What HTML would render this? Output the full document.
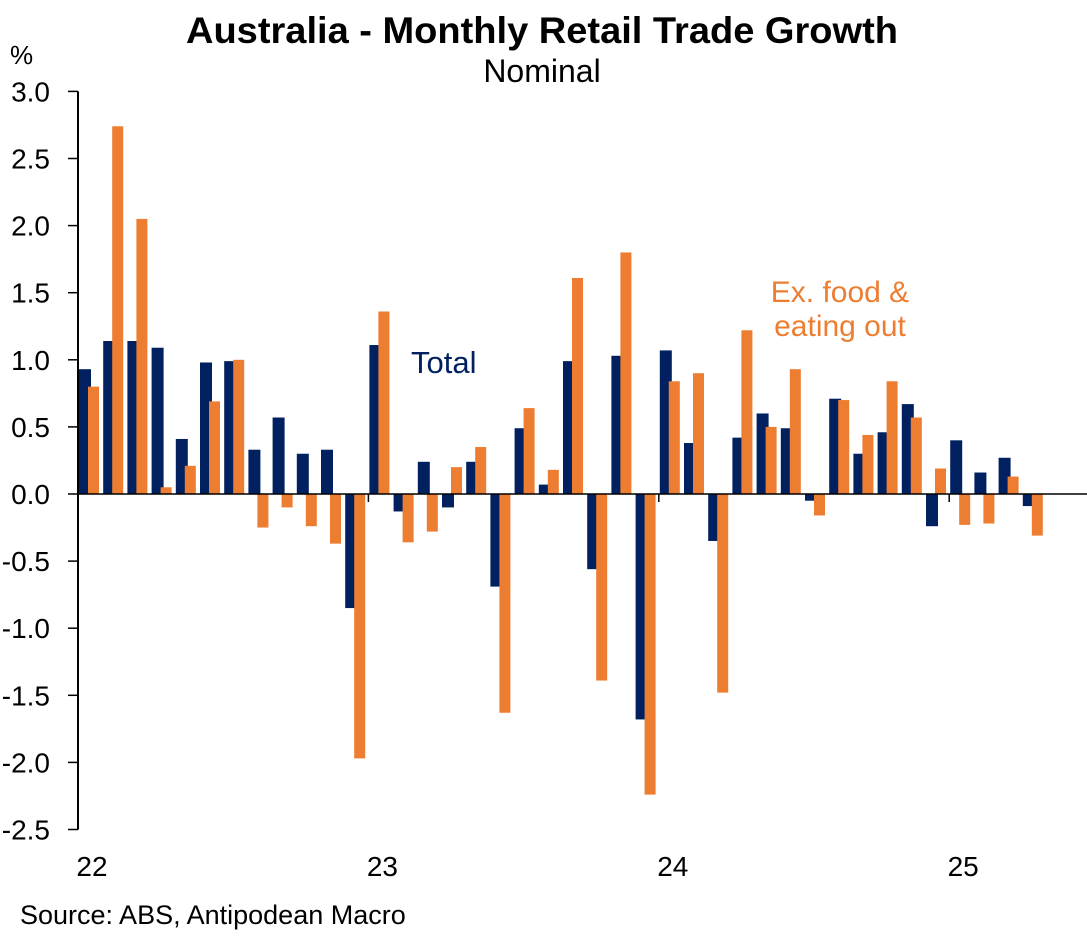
<!DOCTYPE html>
<html><head><meta charset="utf-8"><style>
body{margin:0;background:#fff;font-family:"Liberation Sans",Arial,sans-serif}
</style></head><body>
<svg width="1087" height="932" xmlns="http://www.w3.org/2000/svg" font-family="Liberation Sans, Arial, sans-serif">
<text x="542" y="43" text-anchor="middle" font-size="37" font-weight="bold" textLength="712" lengthAdjust="spacingAndGlyphs">Australia - Monthly Retail Trade Growth</text>
<text x="542" y="82" text-anchor="middle" font-size="32">Nominal</text>
<text x="10" y="64" font-size="26">%</text>
<g id="bars"></g>
<g id="axes"></g>
<text x="411" y="373" font-size="31" fill="#002060">Total</text>
<text x="840" y="302" text-anchor="middle" font-size="30" fill="#ED7D31">Ex. food &amp;</text>
<text x="840" y="336" text-anchor="middle" font-size="30" fill="#ED7D31">eating out</text>
<text x="20" y="924" font-size="27">Source: ABS, Antipodean Macro</text>
</svg>
<script>
const total=[0.93,1.14,1.14,1.09,0.41,0.98,0.99,0.33,0.57,0.30,0.33,-0.85,1.11,-0.13,0.24,-0.10,0.24,-0.69,0.49,0.07,0.99,-0.56,1.03,-1.68,1.07,0.38,-0.35,0.42,0.60,0.49,-0.05,0.71,0.30,0.46,0.67,-0.24,0.40,0.16,0.27,-0.09];
const exFood=[0.80,2.74,2.05,0.05,0.21,0.69,1.00,-0.25,-0.10,-0.24,-0.37,-1.97,1.36,-0.36,-0.28,0.20,0.35,-1.63,0.64,0.18,1.61,-1.39,1.80,-2.24,0.84,0.90,-1.48,1.22,0.50,0.93,-0.16,0.70,0.44,0.84,0.57,0.19,-0.23,-0.22,0.13,-0.31];
const yTicks=[3.0,2.5,2.0,1.5,1.0,0.5,0.0,-0.5,-1.0,-1.5,-2.0,-2.5];
const yearLabels=["22","23","24","25"];
const NS="http://www.w3.org/2000/svg";
const y=v=>494-v*134.2;
const x0=78,slot=24.2;
const bars=document.getElementById('bars'),axes=document.getElementById('axes');
function mk(p,t,a){const e=document.createElementNS(NS,t);for(const k in a)e.setAttribute(k,a[k]);p.appendChild(e);return e;}
total.forEach((v,i)=>{
 const r=mk(bars,'rect',{x:x0+1+i*slot,y:Math.min(y(v),y(0)),width:12,height:Math.abs(y(v)-y(0)),fill:'#002060'});
 
 
});
exFood.forEach((v,i)=>{
 const r=mk(bars,'rect',{x:x0+10+i*slot,y:Math.min(y(v),y(0)),width:11,height:Math.abs(y(v)-y(0)),fill:'#ED7D31'});
 
 
});
const ax=mk(axes,'line',{x1:78,x2:78,y1:y(3),y2:y(-2.5),stroke:'#000','stroke-width':2});


const zl=mk(axes,'line',{x1:78,x2:1087,y1:y(0),y2:y(0),stroke:'#000','stroke-width':1.5});


yTicks.forEach(v=>{
 const t=mk(axes,'line',{x1:68,x2:78,y1:y(v),y2:y(v),stroke:'#000','stroke-width':1.5});
 
 
 const l=mk(axes,'text',{x:50,y:y(v)+10,'text-anchor':'end','font-size':28});
 l.textContent=v.toFixed(1);
 
 
});
yearLabels.forEach((s,i)=>{
 if(i>0){const t=mk(axes,'line',{x1:x0+i*12*slot,x2:x0+i*12*slot,y1:y(0),y2:y(0)+8,stroke:'#000','stroke-width':1.5});
 
 }
 const l=mk(axes,'text',{x:x0+14+i*12*slot,y:876,'text-anchor':'middle','font-size':28});
 l.textContent=s;
 
 
});
</script>
</body></html>
